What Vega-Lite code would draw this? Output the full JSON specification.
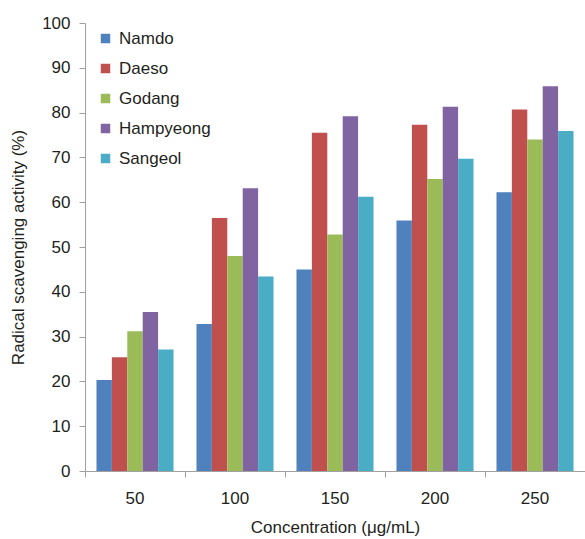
{
  "$schema": "https://vega.github.io/schema/vega-lite/v6.json",
  "autosize": {"type": "none"},
  "padding": {"left": 85, "top": 23, "right": 0, "bottom": 68},
  "width": 500,
  "height": 448,
  "background": "white",
  "config": {
    "view": {"stroke": null},
    "font": "Liberation Sans",
    "axis": {"labelFont": "Liberation Sans", "titleFont": "Liberation Sans", "labelColor": "#231f20", "titleColor": "#231f20", "titleFontWeight": "normal", "domainColor": "#a0a0a0", "tickColor": "#a0a0a0", "grid": false},
    "legend": {"labelFont": "Liberation Sans", "labelColor": "#231f20"}
  },
  "data": {
    "values": [
      {"conc": "50", "cultivar": "Namdo", "value": 20.3},
      {"conc": "50", "cultivar": "Daeso", "value": 25.4},
      {"conc": "50", "cultivar": "Godang", "value": 31.2},
      {"conc": "50", "cultivar": "Hampyeong", "value": 35.5},
      {"conc": "50", "cultivar": "Sangeol", "value": 27.1},
      {"conc": "100", "cultivar": "Namdo", "value": 32.8},
      {"conc": "100", "cultivar": "Daeso", "value": 56.5},
      {"conc": "100", "cultivar": "Godang", "value": 48.0},
      {"conc": "100", "cultivar": "Hampyeong", "value": 63.1},
      {"conc": "100", "cultivar": "Sangeol", "value": 43.4},
      {"conc": "150", "cultivar": "Namdo", "value": 45.0},
      {"conc": "150", "cultivar": "Daeso", "value": 75.5},
      {"conc": "150", "cultivar": "Godang", "value": 52.8},
      {"conc": "150", "cultivar": "Hampyeong", "value": 79.2},
      {"conc": "150", "cultivar": "Sangeol", "value": 61.2},
      {"conc": "200", "cultivar": "Namdo", "value": 55.9},
      {"conc": "200", "cultivar": "Daeso", "value": 77.3},
      {"conc": "200", "cultivar": "Godang", "value": 65.2},
      {"conc": "200", "cultivar": "Hampyeong", "value": 81.3},
      {"conc": "200", "cultivar": "Sangeol", "value": 69.7},
      {"conc": "250", "cultivar": "Namdo", "value": 62.2},
      {"conc": "250", "cultivar": "Daeso", "value": 80.7},
      {"conc": "250", "cultivar": "Godang", "value": 74.0},
      {"conc": "250", "cultivar": "Hampyeong", "value": 85.9},
      {"conc": "250", "cultivar": "Sangeol", "value": 75.9}
    ]
  },
  "mark": {"type": "bar"},
  "encoding": {
    "x": {
      "field": "conc", "type": "nominal", "sort": ["50", "100", "150", "200", "250"],
      "scale": {"paddingInner": 0, "paddingOuter": 0},
      "axis": {"title": "Concentration (μg/mL)", "labelAngle": 0, "labelFontSize": 17, "titleFontSize": 17, "bandPosition": 0, "tickSize": 6, "labelPadding": 13, "titlePadding": 13}
    },
    "xOffset": {
      "field": "cultivar", "type": "nominal", "sort": ["Namdo", "Daeso", "Godang", "Hampyeong", "Sangeol"],
      "scale": {"paddingInner": 0, "paddingOuter": 0.745}
    },
    "y": {
      "field": "value", "type": "quantitative",
      "scale": {"domain": [0, 100]},
      "axis": {"title": "Radical scavenging activity (%)", "values": [0,10,20,30,40,50,60,70,80,90,100], "labelFontSize": 17, "titleFontSize": 17, "tickSize": 6, "labelPadding": 9, "titlePadding": 14}
    },
    "color": {
      "field": "cultivar", "type": "nominal", "sort": ["Namdo", "Daeso", "Godang", "Hampyeong", "Sangeol"],
      "scale": {"domain": ["Namdo", "Daeso", "Godang", "Hampyeong", "Sangeol"], "range": ["#4f81bd", "#c0504d", "#9bbb59", "#8064a2", "#4bacc6"]},
      "legend": {"title": null, "orient": "none", "legendX": 12, "legendY": 7, "symbolType": "square", "symbolSize": 90, "symbolStrokeWidth": 0, "labelFontSize": 17, "rowPadding": 12, "labelOffset": 5, "padding": 0}
    }
  }
}
